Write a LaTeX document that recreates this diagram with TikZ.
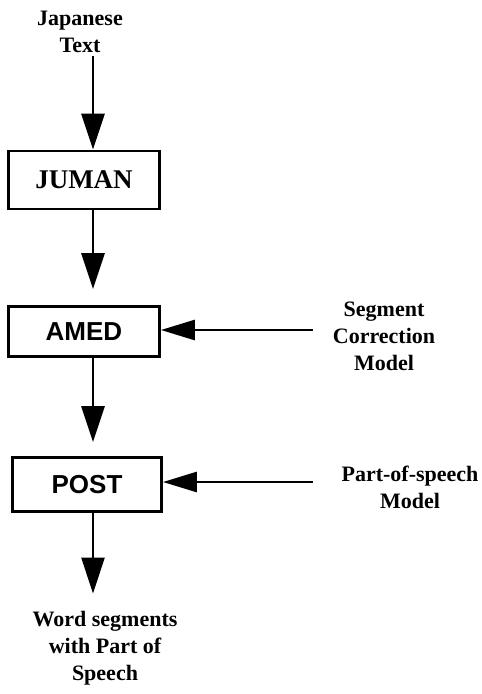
\documentclass[tikz,border=0pt]{standalone}
\usepackage{fontspec}
\setmainfont{Liberation Serif}
\newfontfamily\sansbold{Liberation Sans}
\usetikzlibrary{arrows.meta}

\begin{document}
\begin{tikzpicture}[x=1pt, y=-1pt,
    proc/.style={rectangle, draw, line width=2.8pt, minimum width=151pt, inner sep=0pt},
    txt/.style={align=center, font=\fontsize{22}{27}\selectfont\bfseries},
    arrow/.style={line width=2.8pt, -{Triangle[length=36pt, width=23pt]}},
    sidearrow/.style={line width=2.8pt, -{Triangle[length=34pt, width=20pt]}}
]
    \useasboundingbox (0,0) rectangle (482,694);

    \node[txt] (entrada) at (80,32) {Japanese\\Text};
    \node[proc, minimum height=58pt, font=\fontsize{27}{30}\selectfont\bfseries] (juman) at (84,180) {JUMAN};
    \node[proc, minimum height=50pt, font=\fontsize{26}{30}\selectfont\sansbold\bfseries] (amed) at (84,331.5) {AMED};
    \node[proc, minimum height=54pt, minimum width=149pt, font=\fontsize{26}{30}\selectfont\sansbold\bfseries] (post) at (87,484.5) {POST};
    \node[txt] (salida) at (105,648) {Word segments\\with Part of\\Speech};

    \node[txt] (modseg) at (384,336) {Segment\\Correction\\Model};
    \node[txt] (modpos) at (410,487) {Part-of-speech\\Model};

    % eje vertical de las flechas y origen de las laterales
    \coordinate (eje) at (93,0);
    \coordinate (segin) at (313,330);
    \coordinate (posin) at (313,482);

    \draw[arrow] (entrada.south -| eje) -- (juman.north -| eje);
    \draw[arrow, shorten >=16pt] (juman.south -| eje) -- (amed.north -| eje);
    \draw[arrow, shorten >=14pt] (amed.south -| eje) -- (post.north -| eje);
    \draw[arrow, shorten >=14pt] (post.south -| eje) -- (salida.north -| eje);

    \draw[sidearrow] (segin) -- (segin -| amed.east);
    \draw[sidearrow] (posin) -- (posin -| post.east);
\end{tikzpicture}
\end{document}
